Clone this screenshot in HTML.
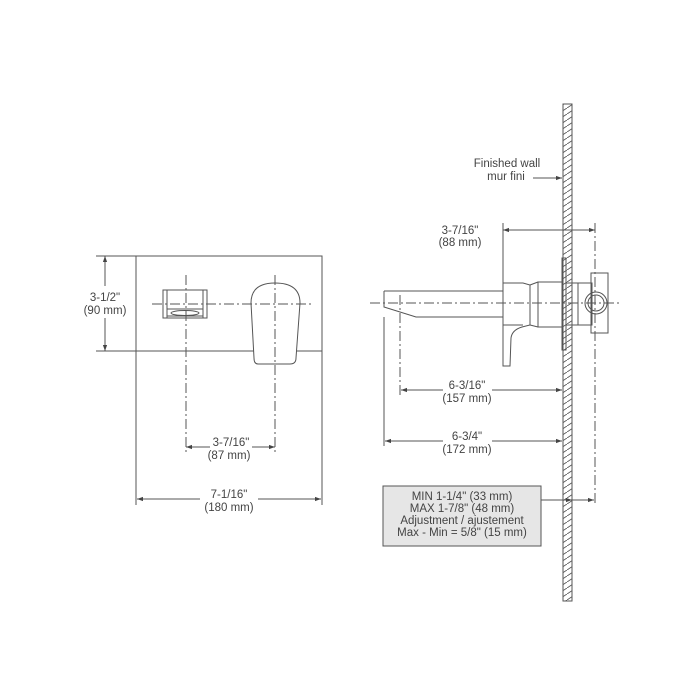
<!DOCTYPE html>
<html><head><style>
html,body{margin:0;padding:0;background:#fff}
svg{display:block}
text{font-family:"Liberation Sans",sans-serif;font-size:11.5px;fill:#444;text-anchor:middle}
</style></head><body>
<svg width="700" height="700" viewBox="0 0 700 700" xmlns="http://www.w3.org/2000/svg">
<defs>
<marker id="a" viewBox="0 0 10 10" refX="10" refY="5" markerWidth="8" markerHeight="6" orient="auto-start-reverse"><path d="M0,1.5L10,5L0,8.5z" fill="#444"/></marker>
<pattern id="h" width="9" height="6" patternUnits="userSpaceOnUse"><path d="M0,6L9,0" stroke="#555" stroke-width="0.9"/></pattern>
</defs>
<g stroke="#555" stroke-width="1" fill="none">
<!-- LEFT VIEW -->
<rect x="136" y="256" width="186" height="95"/>
<line x1="96" y1="256" x2="136" y2="256"/>
<line x1="96" y1="351" x2="136" y2="351"/>
<line x1="105" y1="256" x2="105" y2="351" marker-start="url(#a)" marker-end="url(#a)"/>
<rect x="80" y="286" width="54" height="32" fill="#fff" stroke="none"/>
<line x1="136" y1="351" x2="136" y2="505"/>
<line x1="322" y1="351" x2="322" y2="505"/>
<rect x="163" y="290" width="44" height="28"/>
<line x1="167" y1="290" x2="167" y2="318"/><line x1="203" y1="290" x2="203" y2="318"/>
<rect x="167" y="309" width="36" height="7"/>
<ellipse cx="185" cy="313" rx="14" ry="2.5"/>
<path d="M258,364 Q254,364 254,358 L251,303 Q251,283 275,283 Q300,283 300,303 L296,358 Q296,364 290,364 Z" fill="#fff"/>
<g stroke-dasharray="10,3,2,3">
<line x1="186" y1="275" x2="186" y2="455"/>
<line x1="275" y1="275" x2="275" y2="455"/>
<line x1="152" y1="304" x2="312" y2="304"/>
</g>
<line x1="186" y1="447" x2="210" y2="447" marker-start="url(#a)"/>
<line x1="252" y1="447" x2="275" y2="447" marker-end="url(#a)"/>
<line x1="137" y1="499" x2="200" y2="499" marker-start="url(#a)"/>
<line x1="258" y1="499" x2="321" y2="499" marker-end="url(#a)"/>

<!-- RIGHT VIEW -->
<rect x="563" y="104" width="9" height="497" fill="url(#h)"/>
<line x1="533" y1="178" x2="562" y2="178" marker-end="url(#a)"/>
<path d="M384,291 L503,291 M384,291 L384,307 L416,317 L503,317"/>
<line x1="384" y1="317" x2="384" y2="446"/>
<path d="M503,223 L503,366 L510,366 L511,338 Q512,330 522,327 L530,325 L530,285 L523,283 L503,283"/>
<path d="M503,325 L523,325"/>
<rect x="538" y="282" width="24" height="45"/>
<path d="M530,285 L538,282 M530,325 L538,327"/>
<rect x="562" y="258" width="4" height="92"/>
<rect x="566" y="283" width="12" height="42"/>
<rect x="578" y="283" width="14" height="42"/>
<rect x="591" y="273" width="17" height="60"/>
<circle cx="596" cy="303" r="11"/>
<circle cx="596" cy="303" r="8"/>
<g stroke-dasharray="10,3,2,3">
<line x1="370" y1="303" x2="620" y2="303"/>
<line x1="595" y1="223" x2="595" y2="505"/>
<line x1="400" y1="295" x2="400" y2="395"/>
</g>
<line x1="503" y1="230" x2="595" y2="230" marker-start="url(#a)" marker-end="url(#a)"/>
<line x1="401" y1="390" x2="443" y2="390" marker-start="url(#a)"/>
<line x1="492" y1="390" x2="562" y2="390" marker-end="url(#a)"/>
<line x1="385" y1="441" x2="443" y2="441" marker-start="url(#a)"/>
<line x1="492" y1="441" x2="562" y2="441" marker-end="url(#a)"/>
<line x1="541" y1="500" x2="572" y2="500" marker-end="url(#a)"/>
<line x1="572" y1="500" x2="594" y2="500" marker-end="url(#a)"/>
<rect x="383" y="486" width="158" height="60" fill="#e6e6e6"/>
</g>
<text x="105" y="301">3-1/2"</text><text x="105" y="314">(90 mm)</text>
<text x="231" y="446">3-7/16"</text><text x="229" y="459">(87 mm)</text>
<text x="229" y="498">7-1/16"</text><text x="229" y="511">(180 mm)</text>
<text x="507" y="167">Finished wall</text><text x="506" y="180">mur fini</text>
<text x="460" y="234">3-7/16"</text><text x="460" y="246">(88 mm)</text>
<text x="467" y="389">6-3/16"</text><text x="467" y="402">(157 mm)</text>
<text x="467" y="440">6-3/4"</text><text x="467" y="453">(172 mm)</text>
<text x="462" y="500">MIN 1-1/4" (33 mm)</text>
<text x="462" y="512">MAX 1-7/8" (48 mm)</text>
<text x="462" y="524">Adjustment / ajustement</text>
<text x="462" y="536">Max - Min = 5/8" (15 mm)</text>
</svg>
</body></html>
